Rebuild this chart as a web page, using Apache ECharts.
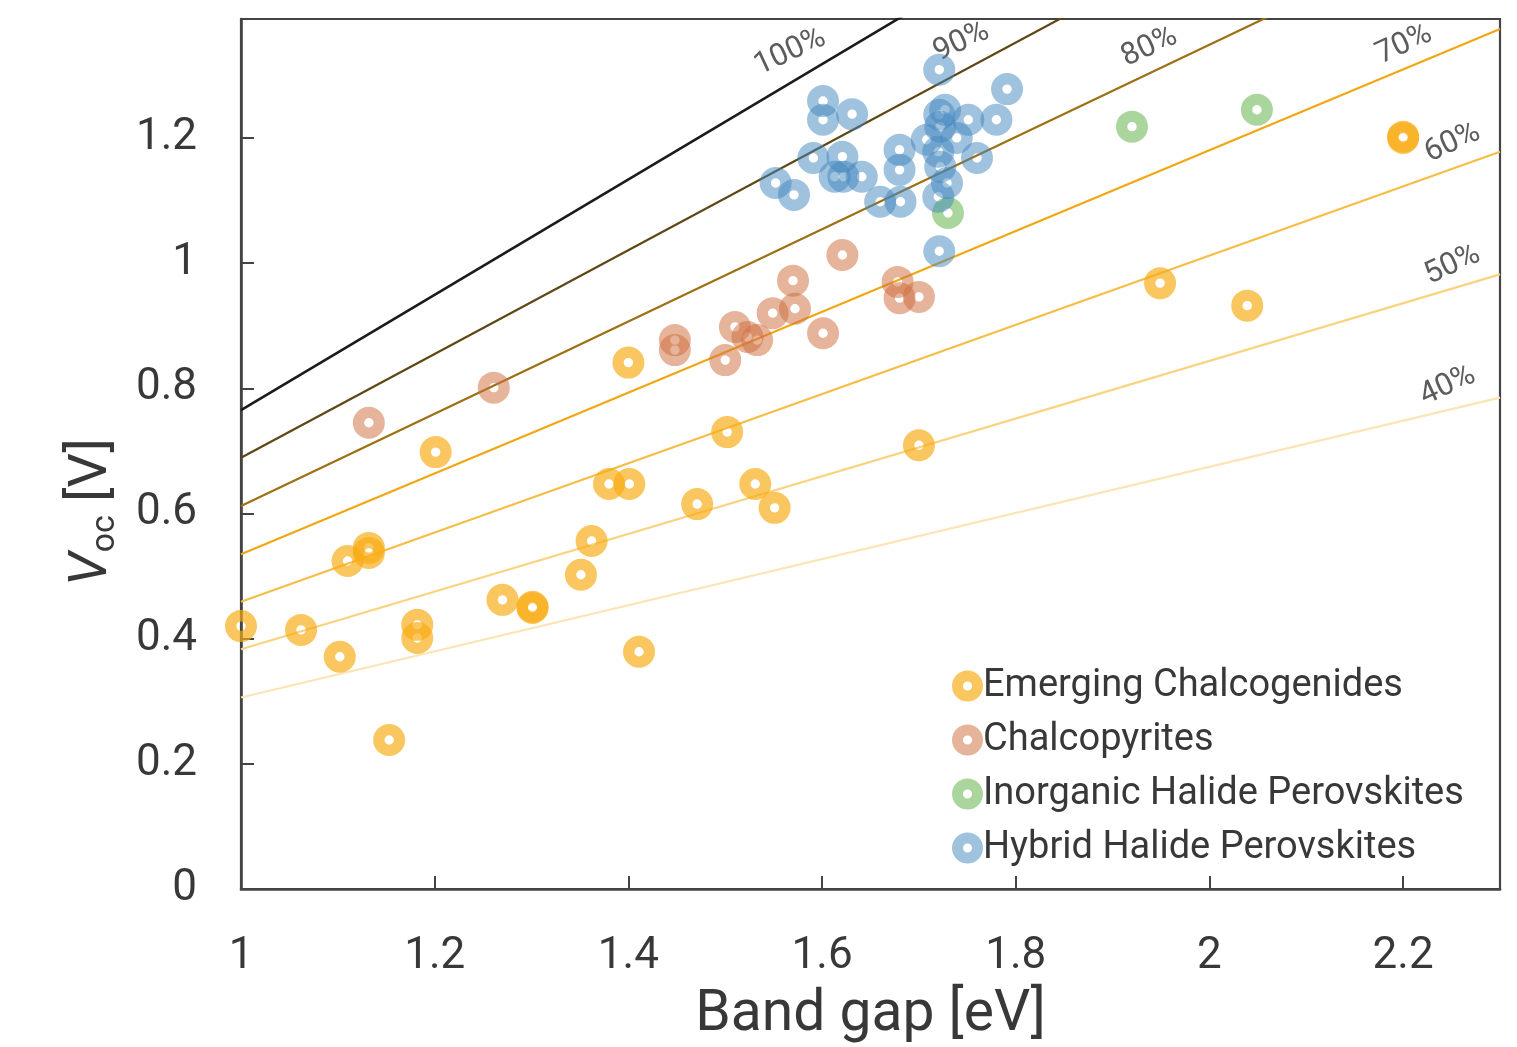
<!DOCTYPE html>
<html>
<head>
<meta charset="utf-8">
<title>Voc vs band gap</title>
<script src="https://cdn.jsdelivr.net/npm/echarts@6/dist/echarts.min.js"></script>
<style>
  html, body { margin: 0; padding: 0; background: #ffffff; }
  #chart { width: 1517px; height: 1047px; }
</style>
</head>
<body>
<div id="chart"></div>
<script>
// ---- Data: band gap [eV] and open-circuit voltage [V] per material class ----
const seriesNames = ['Emerging Chalcogenides', 'Chalcopyrites', 'Inorganic Halide Perovskites', 'Hybrid Halide Perovskites'];

const chalcogenideGap = [1.000, 1.062, 1.102, 1.110, 1.132, 1.132, 1.153, 1.182, 1.182, 1.201, 1.270, 1.301, 1.301, 1.351, 1.362, 1.380, 1.401, 1.400, 1.411, 1.471, 1.502, 1.531, 1.551, 1.700, 1.949, 2.039, 2.200, 2.200];
const chalcogenideVoc = [0.420, 0.414, 0.371, 0.524, 0.537, 0.545, 0.238, 0.422, 0.401, 0.698, 0.462, 0.451, 0.449, 0.502, 0.556, 0.647, 0.647, 0.841, 0.379, 0.615, 0.730, 0.647, 0.609, 0.709, 0.968, 0.932, 1.200, 1.202];

const chalcopyriteGap = [1.132, 1.261, 1.448, 1.448, 1.510, 1.523, 1.533, 1.500, 1.549, 1.572, 1.570, 1.601, 1.621, 1.678, 1.680, 1.700];
const chalcopyriteVoc = [0.745, 0.801, 0.877, 0.861, 0.898, 0.882, 0.877, 0.845, 0.920, 0.927, 0.972, 0.888, 1.013, 0.970, 0.944, 0.946];

const inorganicGap = [1.730, 1.920, 2.049];
const inorganicVoc = [1.080, 1.218, 1.245];

const hybridGap = [1.721, 1.791, 1.601, 1.601, 1.631, 1.591, 1.621, 1.613, 1.622, 1.641, 1.552, 1.571, 1.660, 1.681, 1.680, 1.680, 1.721, 1.721, 1.722, 1.751, 1.780, 1.739, 1.708, 1.760, 1.720, 1.722, 1.729, 1.720, 1.727];
const hybridVoc = [1.309, 1.278, 1.259, 1.229, 1.238, 1.168, 1.170, 1.138, 1.138, 1.138, 1.128, 1.109, 1.098, 1.098, 1.181, 1.149, 1.019, 1.237, 1.218, 1.229, 1.229, 1.200, 1.197, 1.168, 1.178, 1.154, 1.128, 1.106, 1.245];

// Fractions of the detailed-balance Voc limit: value at 1.0 eV and at 2.3 eV
const ratioNames = ['100%', '90%', '80%', '70%', '60%', '50%', '40%'];
const ratioGapRange = [1.0, 2.3];
const ratioVocStart = [0.765, 0.689, 0.612, 0.535, 0.459, 0.383, 0.306];
const ratioVocEnd = [1.963, 1.767, 1.570, 1.374, 1.178, 0.982, 0.785];
// where each percentage label sits (data units)
const ratioLabelGap = [1.567, 1.744, 1.938, 2.201, 2.251, 2.251, 2.246];
const ratioLabelVoc = [1.337, 1.353, 1.345, 1.349, 1.192, 0.997, 0.804];

// Axis ranges and ticks
const xRange = [1.0, 2.3];
const xStep = 0.2;
const yRange = [0, 1.39];
const yStep = 0.2;

// ---- Styling ----
const FONT = 'Roboto';
const TEXT = '#383838';
const AXIS = '#444444';
const ratioColors = ['#1b1b1b', '#5e4714', '#9d7014', '#f2a712', '#f6bd44', '#f9d37f', '#fbe4b6'];
const markerColors = ['rgba(248,172,20,0.85)', 'rgba(208,110,64,0.66)', 'rgba(112,186,92,0.74)', 'rgba(66,136,190,0.64)'];
// ring marker: outer disc with a small hole punched through the centre
const RING = 'path://M16,0A16,16,0,1,1,-16,0A16,16,0,1,1,16,0ZM4.7,0A4.7,4.7,0,1,0,-4.7,0A4.7,4.7,0,1,0,4.7,0Z';

function pairs(xs, ys) { return xs.map((x, i) => [x, ys[i]]); }

const ratioLineSeries = ratioNames.map((name, i) => ({
  name: 'limit ' + name,
  type: 'line',
  data: [[ratioGapRange[0], ratioVocStart[i]], [ratioGapRange[1], ratioVocEnd[i]]],
  showSymbol: false,
  symbol: 'none',
  clip: true,
  silent: true,
  lineStyle: { color: ratioColors[i], width: i === 0 ? 2.6 : 2.2 },
  z: 1
}));

const ratioLabelSeries = {
  name: 'limit labels',
  type: 'scatter',
  symbolSize: 0,
  silent: true,
  data: ratioNames.map((n, i) => ({ name: n, value: [ratioLabelGap[i], ratioLabelVoc[i]] })),
  label: {
    show: true,
    position: 'inside',
    formatter: '{b}',
    rotate: 25,
    fontFamily: FONT,
    fontSize: 31,
    color: '#333333'
  },
  z: 2
};

const pointSets = [
  pairs(chalcogenideGap, chalcogenideVoc),
  pairs(chalcopyriteGap, chalcopyriteVoc),
  pairs(inorganicGap, inorganicVoc),
  pairs(hybridGap, hybridVoc)
];

const scatterSeries = seriesNames.map((name, i) => ({
  name: name,
  type: 'scatter',
  data: pointSets[i],
  symbol: RING,
  symbolSize: 32,
  symbolKeepAspect: true,
  itemStyle: { color: markerColors[i] },
  z: 3
}));

const chart = echarts.init(document.getElementById('chart'), null, { renderer: 'canvas' });

chart.setOption({
  backgroundColor: '#ffffff',
  animation: false,
  textStyle: { fontFamily: FONT, color: TEXT },
  grid: {
    left: 241, right: 17, top: 19, bottom: 158,
    outerBoundsMode: 'none',
    containLabel: false,
    show: true, borderColor: AXIS, borderWidth: 2.2, backgroundColor: 'transparent'
  },
  legend: {
    data: seriesNames,
    orient: 'vertical',
    left: 947,
    top: 662,
    itemWidth: 31,
    itemHeight: 31,
    itemGap: 16,
    icon: RING,
    textStyle: { fontFamily: FONT, fontSize: 38, color: TEXT, padding: [0, 0, 0, -5] },
    selectedMode: false
  },
  // Voc title with italic V and subscript "oc", reading bottom-to-top
  graphic: [{
    type: 'text',
    x: 92,
    y: 512,
    rotation: Math.PI / 2,
    style: {
      text: '{v|V}{sub|oc}{u| [V]}',
      align: 'center',
      verticalAlign: 'middle',
      rich: {
        v: { fontFamily: FONT, fontSize: 54, fontStyle: 'italic', fill: TEXT, lineHeight: 60 },
        sub: { fontFamily: FONT, fontSize: 34, fill: TEXT, verticalAlign: 'bottom', lineHeight: 60, padding: [20, 0, 0, 0] },
        u: { fontFamily: FONT, fontSize: 54, fill: TEXT, lineHeight: 60 }
      }
    }
  }],
  xAxis: {
    type: 'value',
    min: xRange[0], max: xRange[1], interval: xStep,
    name: 'Band gap [eV]',
    nameLocation: 'middle',
    nameGap: 98,
    nameTextStyle: { fontFamily: FONT, fontSize: 57, color: TEXT },
    axisLine: { show: true, lineStyle: { color: AXIS, width: 2.6 } },
    axisTick: { show: true, inside: true, length: 13, lineStyle: { color: AXIS, width: 2 } },
    axisLabel: { showMaxLabel: false, margin: 46, fontFamily: FONT, fontSize: 44, color: TEXT },
    splitLine: { show: false }
  },
  yAxis: {
    type: 'value',
    min: yRange[0], max: yRange[1], interval: yStep,
    axisLine: { show: true, lineStyle: { color: AXIS, width: 2.6 } },
    axisTick: { show: true, inside: true, length: 13, lineStyle: { color: AXIS, width: 2 } },
    axisLabel: { showMaxLabel: false, margin: 44, fontFamily: FONT, fontSize: 44, color: TEXT },
    splitLine: { show: false }
  },
  series: [...ratioLineSeries, ratioLabelSeries, ...scatterSeries]
});
</script>
</body>
</html>
